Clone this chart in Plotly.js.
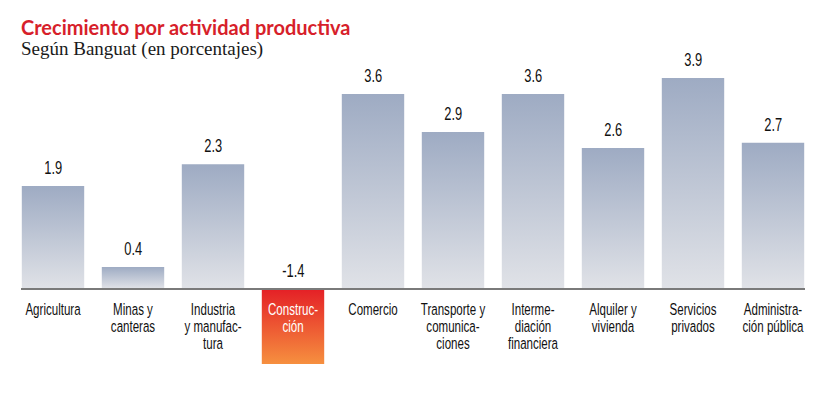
<!DOCTYPE html>
<html>
<head>
<meta charset="utf-8">
<script src="https://cdn.plot.ly/plotly-3.0.1.min.js"></script>
<style>
html,body{margin:0;padding:0;background:#fff;}
#chart{width:826px;height:393px;}
</style>
</head>
<body>
<div id="chart"></div>
<script>
const categories = ["Agricultura","Minas y<br>canteras","Industria<br>y manufac-<br>tura","Construc-<br>ción","Comercio","Transporte y<br>comunica-<br>ciones","Interme-<br>diación<br>financiera","Alquiler y<br>vivienda","Servicios<br>privados","Administra-<br>ción pública"];
const values = [1.9, 0.4, 2.3, -1.4, 3.6, 2.9, 3.6, 2.6, 3.9, 2.7];
const valueLabels = ["1.9","0.4","2.3","-1.4","3.6","2.9","3.6","2.6","3.9","2.7"];
const titleText = "Crecimiento por actividad productiva";
const subtitleText = "Según Banguat (en porcentajes)";

const barW = 0.78;
const posTop = '#9eabc3', posBottom = '#e0e2e7';
const negTop = '#e41f26', negBottom = '#f6903f';
const narrowFont = '"Liberation Sans", Arial, sans-serif';

const traces = values.map((v, i) => {
  const x0 = i - barW/2, x1 = i + barW/2;
  const neg = v < 0;
  return {
    type: 'scatter', mode: 'lines',
    x: [x0, x1, x1, x0, x0],
    y: [0, 0, v, v, 0],
    fill: 'toself',
    line: {width: 0},
    fillgradient: {
      type: 'vertical',
      colorscale: neg ? [[0, negBottom], [1, negTop]] : [[0, posBottom], [1, posTop]]
    },
    hoverinfo: 'skip', showlegend: false
  };
});

const ticktext = categories.map((c, i) => values[i] < 0
  ? c.split('<br>').map(s => '<span style="color:#ffffff">' + s + '</span>').join('<br>')
  : c);

const annotations = values.map((v, i) => ({
  x: i, y: Math.max(v, 0), xref: 'x', yref: 'y',
  text: valueLabels[i], showarrow: false,
  yanchor: 'bottom', yshift: 6,
  font: {family: narrowFont, size: 19, color: '#111111'}
}));

annotations.push({
  xref: 'paper', yref: 'paper', x: -0.002, y: 1, xanchor: 'left', yanchor: 'top', align: 'left',
  yshift: 57,
  text: '<span style="font-family:Lato,\'Open Sans\',sans-serif;font-size:20px;font-weight:bold;color:#d71f2b">' + titleText +
        '</span><br><span style="font-family:\'Liberation Serif\',\'DejaVu Serif\',serif;font-size:19px;color:#1a1a1a">' + subtitleText + '</span>',
  showarrow: false,
  font: {family: '"Liberation Serif",serif', size: 15.5, color: '#1a1a1a'}
});

const yMin = -1.694, yMax = 4.046;
const layout = {
  width: 826, height: 393,
  margin: {l: 21, r: 21, t: 70, b: 13},
  paper_bgcolor: '#ffffff', plot_bgcolor: '#ffffff',
  xaxis: {
    range: [-0.4, 9.4],
    tickvals: values.map((v, i) => i),
    ticktext: ticktext,
    tickangle: 0,
    showgrid: false, zeroline: false,
    showline: true, linecolor: '#7a7a7a', linewidth: 2,
    ticks: '', anchor: 'free', position: (0 - yMin) / (yMax - yMin),
    ticklabelstandoff: 5,
    tickfont: {family: narrowFont, size: 17, color: '#111111'},
    fixedrange: true
  },
  yaxis: {
    range: [yMin, yMax], visible: false, showgrid: false, zeroline: false, fixedrange: true
  },
  annotations: annotations,
  showlegend: false
};

function condense(el, s) {
  const x = parseFloat(el.getAttribute('x')) || 0;
  const t = el.getAttribute('transform') || '';
  el.setAttribute('transform', (t + ' translate(' + x + ',0) scale(' + s + ',1) translate(' + (-x) + ',0)').trim());
}

Plotly.newPlot('chart', traces, layout, {displayModeBar: false, staticPlot: true}).then(gd => {
  gd.querySelectorAll('.xtick text').forEach(el => {
    el.querySelectorAll('tspan.line').forEach((ts, k) => { if (k > 0) ts.setAttribute('dy', (k * 1.0) + 'em'); });
    condense(el, 0.68);
  });
  const anns = gd.querySelectorAll('.annotation');
  anns.forEach((a, k) => {
    if (k < values.length) {
      const el = a.querySelector('text');
      if (el) condense(el, 0.68);
    }
  });
});
</script>
</body>
</html>
